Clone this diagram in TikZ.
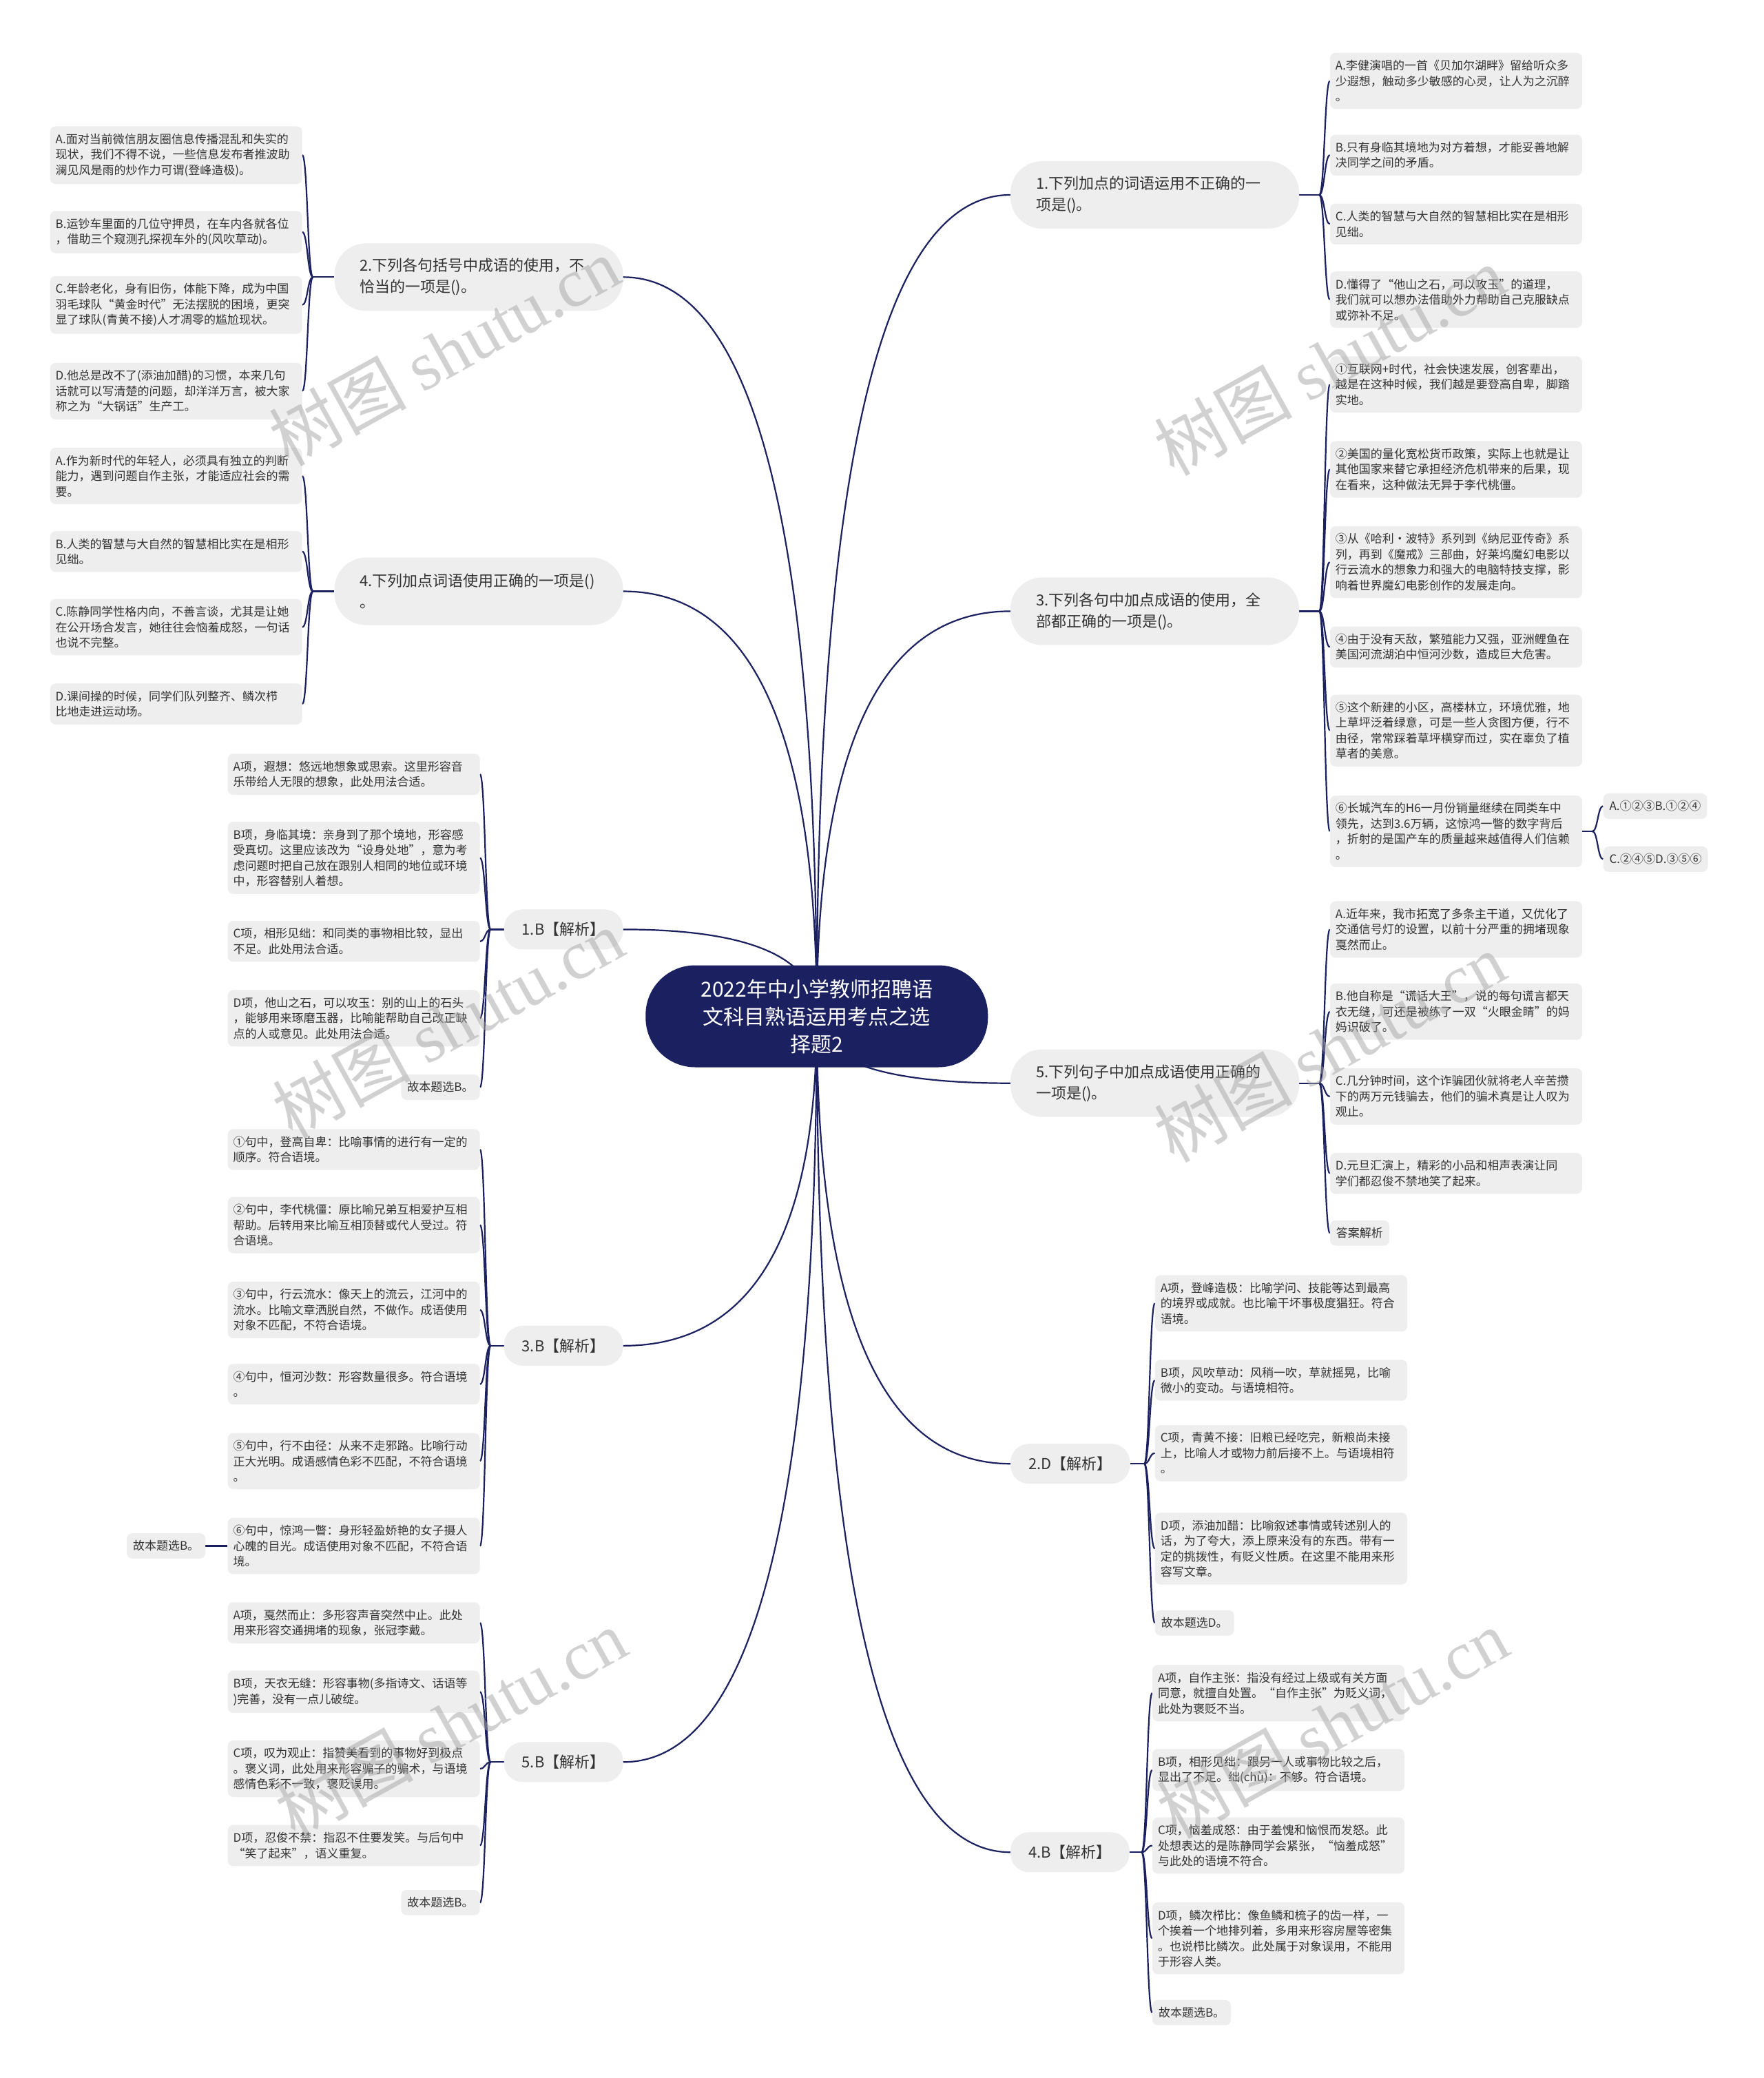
\documentclass[tikz,border=0pt]{standalone}
\usepackage{fontspec}
\setmainfont{Noto Sans CJK SC}
\newfontfamily\wmserif{Liberation Serif}
\usetikzlibrary{calc}
\definecolor{navy}{RGB}{27,33,96}
\definecolor{boxgray}{RGB}{238,238,238}
\definecolor{txt}{RGB}{51,51,51}
\definecolor{wmgray}{RGB}{165,165,165}
\pgfdeclarelayer{bg}\pgfdeclarelayer{edges}\pgfdeclarelayer{wm}
\pgfsetlayers{bg,edges,main,wm}
\begin{document}
\begin{tikzpicture}[x=1.925pt, y=-1.925pt,
  leaf/.style={fill=boxgray, rounded corners=8pt, text=txt, font=\fontsize{17pt}{22.5pt}\selectfont, inner xsep=8pt, inner ysep=10.5pt, text width=350pt, align=left},
  tag/.style={fill=boxgray, rounded corners=8pt, text=txt, font=\fontsize{17pt}{22.5pt}\selectfont, inner xsep=9pt, inner ysep=10.5pt},
  branch/.style={fill=boxgray, text=txt, font=\fontsize{22pt}{31pt}\selectfont, text width=345pt, inner xsep=37pt, minimum height=98pt, rounded corners=46pt, align=left},
  sbranch/.style={fill=boxgray, text=txt, font=\fontsize{22pt}{31pt}\selectfont, inner xsep=26pt, minimum height=58pt, rounded corners=27pt},
  root/.style={fill=navy, text=white, font=\fontsize{30pt}{40pt}\selectfont, text width=380pt, align=center, minimum width=497pt, minimum height=148pt, rounded corners=72pt},
  link/.style={draw=navy, line width=2.2pt},
  trunk/.style={to path={let \p1=(\tikztostart), \p2=(\tikztotarget) in .. controls (\x1, {0.333*(\y1)+0.667*(\y2)}) and ({0.333*(\x2)+0.667*(\x1)}, \y2) .. (\tikztotarget)}},
  sc/.style={to path={let \p1=(\tikztostart), \p2=(\tikztotarget) in .. controls ({0.5*(\x1)+0.5*(\x2)}, \y1) and ({0.5*(\x1)+0.5*(\x2)}, \y2) .. (\tikztotarget)}},
  wmark/.style={text=wmgray, text opacity=0.5, rotate=29, font=\fontsize{100pt}{100pt}\selectfont}
]
\begin{pgfonlayer}{bg}
\fill[white] (0,0) rectangle (1330,1567.3);
\end{pgfonlayer}
\useasboundingbox (0,0) rectangle (1330,1567.3);

% root
\node[root] (ctr) at (616,766.5) {2022年中小学教师招聘语\\文科目熟语运用考点之选\\择题2};

% right branches
\node[branch, anchor=west] (R1) at (762,147) {1.下列加点的词语运用不正确的一\\项是()。};
\node[branch, anchor=west] (R2) at (762,461) {3.下列各句中加点成语的使用，全\\部都正确的一项是()。};
\node[branch, anchor=west] (R3) at (762,817) {5.下列句子中加点成语使用正确的\\一项是()。};
\node[sbranch, anchor=west] (R4) at (762,1104) {2.D【解析】};
\node[sbranch, anchor=west] (R5) at (762,1397) {4.B【解析】};

% left branches
\node[branch, anchor=east] (L1) at (470,209) {2.下列各句括号中成语的使用，不\\恰当的一项是()。};
\node[branch, anchor=east] (L2) at (470,446) {4.下列加点词语使用正确的一项是()\\。};
\node[sbranch, anchor=east] (L3) at (470,701) {1.B【解析】};
\node[sbranch, anchor=east] (L4) at (470,1015) {3.B【解析】};
\node[sbranch, anchor=east] (L5) at (470,1329) {5.B【解析】};

% R1 leaves
\node[leaf, anchor=west] (r1a) at (1003,61) {A.李健演唱的一首《贝加尔湖畔》留给听众多\\少遐想，触动多少敏感的心灵，让人为之沉醉\\。};
\node[leaf, anchor=west] (r1b) at (1003,117) {B.只有身临其境地为对方着想，才能妥善地解\\决同学之间的矛盾。};
\node[leaf, anchor=west] (r1c) at (1003,169) {C.人类的智慧与大自然的智慧相比实在是相形\\见绌。};
\node[leaf, anchor=west] (r1d) at (1003,226) {D.懂得了“他山之石，可以攻玉”的道理，\\我们就可以想办法借助外力帮助自己克服缺点\\或弥补不足。};

% R2 leaves
\node[leaf, anchor=west] (r2a) at (1003,290) {①互联网+时代，社会快速发展，创客辈出，\\越是在这种时候，我们越是要登高自卑，脚踏\\实地。};
\node[leaf, anchor=west] (r2b) at (1003,354) {②美国的量化宽松货币政策，实际上也就是让\\其他国家来替它承担经济危机带来的后果，现\\在看来，这种做法无异于李代桃僵。};
\node[leaf, anchor=west] (r2c) at (1003,424) {③从《哈利·波特》系列到《纳尼亚传奇》系\\列，再到《魔戒》三部曲，好莱坞魔幻电影以\\行云流水的想象力和强大的电脑特技支撑，影\\响着世界魔幻电影创作的发展走向。};
\node[leaf, anchor=west] (r2d) at (1003,488) {④由于没有天敌，繁殖能力又强，亚洲鲤鱼在\\美国河流湖泊中恒河沙数，造成巨大危害。};
\node[leaf, anchor=west] (r2e) at (1003,551) {⑤这个新建的小区，高楼林立，环境优雅，地\\上草坪泛着绿意，可是一些人贪图方便，行不\\由径，常常踩着草坪横穿而过，实在辜负了植\\草者的美意。};
\node[leaf, anchor=west] (r2f) at (1003,627) {⑥长城汽车的H6一月份销量继续在同类车中\\领先，达到3.6万辆，这惊鸿一瞥的数字背后\\，折射的是国产车的质量越来越值得人们信赖\\。};
\node[tag, anchor=west] (ans1) at (1209,608) {A.①②③B.①②④};
\node[tag, anchor=west] (ans2) at (1209,648) {C.②④⑤D.③⑤⑥};

% R3 leaves
\node[leaf, anchor=west] (r3a) at (1003,701) {A.近年来，我市拓宽了多条主干道，又优化了\\交通信号灯的设置，以前十分严重的拥堵现象\\戛然而止。};
\node[leaf, anchor=west] (r3b) at (1003,763) {B.他自称是“谎话大王”，说的每句谎言都天\\衣无缝，可还是被练了一双“火眼金睛”的妈\\妈识破了。};
\node[leaf, anchor=west] (r3c) at (1003,827) {C.几分钟时间，这个诈骗团伙就将老人辛苦攒\\下的两万元钱骗去，他们的骗术真是让人叹为\\观止。};
\node[leaf, anchor=west] (r3d) at (1003,885) {D.元旦汇演上，精彩的小品和相声表演让同\\学们都忍俊不禁地笑了起来。};
\node[tag, anchor=west] (r3e) at (1003,930) {答案解析};

% R4 leaves
\node[leaf, anchor=west] (r4a) at (871,983) {A项，登峰造极：比喻学问、技能等达到最高\\的境界或成就。也比喻干坏事极度猖狂。符合\\语境。};
\node[leaf, anchor=west] (r4b) at (871,1041) {B项，风吹草动：风稍一吹，草就摇晃，比喻\\微小的变动。与语境相符。};
\node[leaf, anchor=west] (r4c) at (871,1096) {C项，青黄不接：旧粮已经吃完，新粮尚未接\\上，比喻人才或物力前后接不上。与语境相符\\。};
\node[leaf, anchor=west] (r4d) at (871,1168) {D项，添油加醋：比喻叙述事情或转述别人的\\话，为了夸大，添上原来没有的东西。带有一\\定的挑拨性，有贬义性质。在这里不能用来形\\容写文章。};
\node[tag, anchor=west] (r4e) at (871,1224) {故本题选D。};

% R5 leaves
\node[leaf, anchor=west] (r5a) at (869,1277) {A项，自作主张：指没有经过上级或有关方面\\同意，就擅自处置。“自作主张”为贬义词，\\此处为褒贬不当。};
\node[leaf, anchor=west] (r5b) at (869,1335) {B项，相形见绌：跟另一人或事物比较之后，\\显出了不足。绌(chù)：不够。符合语境。};
\node[leaf, anchor=west] (r5c) at (869,1392) {C项，恼羞成怒：由于羞愧和恼恨而发怒。此\\处想表达的是陈静同学会紧张，“恼羞成怒”\\与此处的语境不符合。};
\node[leaf, anchor=west] (r5d) at (869,1462) {D项，鳞次栉比：像鱼鳞和梳子的齿一样，一\\个挨着一个地排列着，多用来形容房屋等密集\\。也说栉比鳞次。此处属于对象误用，不能用\\于形容人类。};
\node[tag, anchor=west] (r5e) at (869,1518) {故本题选B。};

% L1 leaves
\node[leaf, anchor=east] (l1a) at (228,117) {A.面对当前微信朋友圈信息传播混乱和失实的\\现状，我们不得不说，一些信息发布者推波助\\澜见风是雨的炒作力可谓(登峰造极)。};
\node[leaf, anchor=east] (l1b) at (228,175) {B.运钞车里面的几位守押员，在车内各就各位\\，借助三个窥测孔探视车外的(风吹草动)。};
\node[leaf, anchor=east] (l1c) at (228,230) {C.年龄老化，身有旧伤，体能下降，成为中国\\羽毛球队“黄金时代”无法摆脱的困境，更突\\显了球队(青黄不接)人才凋零的尴尬现状。};
\node[leaf, anchor=east] (l1d) at (228,295) {D.他总是改不了(添油加醋)的习惯，本来几句\\话就可以写清楚的问题，却洋洋万言，被大家\\称之为“大锅话”生产工。};

% L2 leaves
\node[leaf, anchor=east] (l2a) at (228,359) {A.作为新时代的年轻人，必须具有独立的判断\\能力，遇到问题自作主张，才能适应社会的需\\要。};
\node[leaf, anchor=east] (l2b) at (228,416) {B.人类的智慧与大自然的智慧相比实在是相形\\见绌。};
\node[leaf, anchor=east] (l2c) at (228,473) {C.陈静同学性格内向，不善言谈，尤其是让她\\在公开场合发言，她往往会恼羞成怒，一句话\\也说不完整。};
\node[leaf, anchor=east] (l2d) at (228,531) {D.课间操的时候，同学们队列整齐、鳞次栉\\比地走进运动场。};

% L3 leaves
\node[leaf, anchor=east] (l3a) at (362,584) {A项，遐想：悠远地想象或思索。这里形容音\\乐带给人无限的想象，此处用法合适。};
\node[leaf, anchor=east] (l3b) at (362,647) {B项，身临其境：亲身到了那个境地，形容感\\受真切。这里应该改为“设身处地”，意为考\\虑问题时把自己放在跟别人相同的地位或环境\\中，形容替别人着想。};
\node[leaf, anchor=east] (l3c) at (362,710) {C项，相形见绌：和同类的事物相比较，显出\\不足。此处用法合适。};
\node[leaf, anchor=east] (l3d) at (362,768) {D项，他山之石，可以攻玉：别的山上的石头\\，能够用来琢磨玉器，比喻能帮助自己改正缺\\点的人或意见。此处用法合适。};
\node[tag, anchor=east] (l3e) at (362,820) {故本题选B。};

% L4 leaves
\node[leaf, anchor=east] (l4a) at (362,867) {①句中，登高自卑：比喻事情的进行有一定的\\顺序。符合语境。};
\node[leaf, anchor=east] (l4b) at (362,924) {②句中，李代桃僵：原比喻兄弟互相爱护互相\\帮助。后转用来比喻互相顶替或代人受过。符\\合语境。};
\node[leaf, anchor=east] (l4c) at (362,988) {③句中，行云流水：像天上的流云，江河中的\\流水。比喻文章洒脱自然，不做作。成语使用\\对象不匹配，不符合语境。};
\node[leaf, anchor=east] (l4d) at (362,1044) {④句中，恒河沙数：形容数量很多。符合语境\\。};
\node[leaf, anchor=east] (l4e) at (362,1102) {⑤句中，行不由径：从来不走邪路。比喻行动\\正大光明。成语感情色彩不匹配，不符合语境\\。};
\node[leaf, anchor=east] (l4f) at (362,1166) {⑥句中，惊鸿一瞥：身形轻盈娇艳的女子摄人\\心魄的目光。成语使用对象不匹配，不符合语\\境。};
\node[tag, anchor=east] (l4g) at (155,1166) {故本题选B。};

% L5 leaves
\node[leaf, anchor=east] (l5a) at (362,1224) {A项，戛然而止：多形容声音突然中止。此处\\用来形容交通拥堵的现象，张冠李戴。};
\node[leaf, anchor=east] (l5b) at (362,1276) {B项，天衣无缝：形容事物(多指诗文、话语等\\)完善，没有一点儿破绽。};
\node[leaf, anchor=east] (l5c) at (362,1334) {C项，叹为观止：指赞美看到的事物好到极点\\。褒义词，此处用来形容骗子的骗术，与语境\\感情色彩不一致，褒贬误用。};
\node[leaf, anchor=east] (l5d) at (362,1392) {D项，忍俊不禁：指忍不住要发笑。与后句中\\“笑了起来”，语义重复。};
\node[tag, anchor=east] (l5e) at (362,1435) {故本题选B。};

% junctions
\coordinate (R1j) at (995,147);
\coordinate (R2j) at (995,461);
\coordinate (R3j) at (995,817);
\coordinate (R4j) at (863,1104);
\coordinate (R5j) at (861,1397);
\coordinate (AJ) at (1201,627);
\coordinate (L1j) at (236,209);
\coordinate (L2j) at (236,446);
\coordinate (L3j) at (370,701);
\coordinate (L4j) at (370,1015);
\coordinate (L5j) at (370,1329);

\begin{pgfonlayer}{edges}
% trunk
\foreach \b/\a in {R1/west,R2/west,R3/west,R4/west,R5/west,L1/east,L2/east,L3/east,L4/east,L5/east}
  \draw[link] (ctr.center) to[trunk] (\b.\a);
% stubs
\foreach \b/\a in {R1/east,R2/east,R3/east,R4/east,R5/east,L1/west,L2/west,L3/west,L4/west,L5/west}
  \draw[link] (\b.\a) -- (\b j);
\draw[link] (r2f.east) -- (AJ);
% right leaves
\foreach \j/\l in {R1j/r1a,R1j/r1b,R1j/r1c,R1j/r1d,
                   R2j/r2a,R2j/r2b,R2j/r2c,R2j/r2d,R2j/r2e,R2j/r2f,
                   AJ/ans1,AJ/ans2,
                   R3j/r3a,R3j/r3b,R3j/r3c,R3j/r3d,R3j/r3e,
                   R4j/r4a,R4j/r4b,R4j/r4c,R4j/r4d,R4j/r4e,
                   R5j/r5a,R5j/r5b,R5j/r5c,R5j/r5d,R5j/r5e}
  \draw[link] (\j) to[sc] (\l.west);
% left leaves
\foreach \j/\l in {L1j/l1a,L1j/l1b,L1j/l1c,L1j/l1d,
                   L2j/l2a,L2j/l2b,L2j/l2c,L2j/l2d,
                   L3j/l3a,L3j/l3b,L3j/l3c,L3j/l3d,L3j/l3e,
                   L4j/l4a,L4j/l4b,L4j/l4c,L4j/l4d,L4j/l4e,L4j/l4f,
                   L5j/l5a,L5j/l5b,L5j/l5c,L5j/l5d,L5j/l5e}
  \draw[link] (\j) to[sc] (\l.east);
\draw[link] (l4f.west) -- (l4g.east);
\end{pgfonlayer}

\begin{pgfonlayer}{wm}
\node[wmark] (w1) at (335,265) {树图 {\wmserif shutu.cn}};
\node[wmark] (w2) at (1003,272) {树图 {\wmserif shutu.cn}};
\node[wmark] (w3) at (338,772) {树图 {\wmserif shutu.cn}};
\node[wmark] (w4) at (1003,790) {树图 {\wmserif shutu.cn}};
\node[wmark] (w5) at (340,1300) {树图 {\wmserif shutu.cn}};
\node[wmark] (w6) at (1005,1300) {树图 {\wmserif shutu.cn}};
\end{pgfonlayer}
\end{tikzpicture}
\end{document}
